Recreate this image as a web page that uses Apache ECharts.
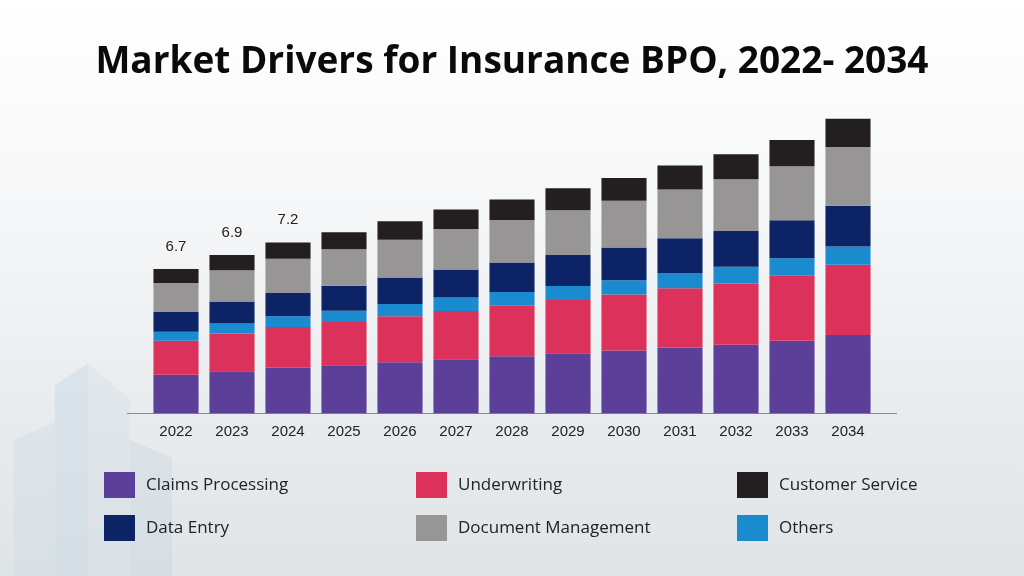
<!DOCTYPE html>
<html>
<head>
<meta charset="utf-8">
<style>
html,body{margin:0;padding:0;width:1024px;height:576px;overflow:hidden;}
#chart{width:1024px;height:576px;background:linear-gradient(180deg,#ffffff 0%,#f6f7f8 35%,#e9ecee 70%,#dfe4e7 100%);}
</style>
<script src="https://cdn.jsdelivr.net/npm/echarts@6/dist/echarts.min.js"></script>
</head>
<body>
<div id="chart"></div>
<script>
const years = ['2022','2023','2024','2025','2026','2027','2028','2029','2030','2031','2032','2033','2034'];
const totalLabels = ['6.7','6.9','7.2','','','','','','','','','',''];
const claimsProcessing   = [1.79,1.95,2.12,2.23,2.37,2.51,2.65,2.79,2.91,3.06,3.18,3.37,3.64];
const underwriting       = [1.58,1.76,1.89,2.01,2.14,2.24,2.34,2.47,2.61,2.74,2.85,3.02,3.25];
const others             = [0.42,0.46,0.50,0.52,0.56,0.62,0.64,0.65,0.66,0.71,0.77,0.81,0.85];
const dataEntry          = [0.91,1.02,1.07,1.16,1.23,1.30,1.37,1.44,1.52,1.61,1.66,1.76,1.89];
const documentManagement = [1.35,1.45,1.59,1.69,1.76,1.88,1.97,2.08,2.17,2.27,2.40,2.51,2.73];
const customerService    = [0.65,0.71,0.76,0.79,0.85,0.91,0.96,1.02,1.05,1.11,1.16,1.22,1.31];

const seriesDefs = [
  {name:'Claims Processing', data:claimsProcessing, color:'#5b3f98'},
  {name:'Underwriting', data:underwriting, color:'#dc315b'},
  {name:'Others', data:others, color:'#1b8bd0'},
  {name:'Data Entry', data:dataEntry, color:'#0c2466'},
  {name:'Document Management', data:documentManagement, color:'#979596'},
  {name:'Customer Service', data:customerService, color:'#231f20'}
];

const chart = echarts.init(document.getElementById('chart'), null, {renderer:'canvas'});
const legendText = {fontFamily:'"Open Sans", sans-serif', fontSize:17, color:'#222', padding:[0,0,0,6]};
function legendCol(left, items){
  return {
    orient:'vertical', left:left, top:472, padding:0, itemWidth:31, itemHeight:26, itemGap:17,
    icon:'rect', selectedMode:false, textStyle:legendText, data:items
  };
}
const series = seriesDefs.map((s, i) => ({
  name:s.name, type:'bar', stack:'total', data:s.data, barCategoryGap:'19.5%',
  itemStyle:{color:s.color}, emphasis:{disabled:true}, animation:false,
  label: i === seriesDefs.length - 1 ? {
    show:true, position:'top', distance:15,
    fontFamily:'"Liberation Sans", Arial, sans-serif', fontSize:15, color:'#222',
    formatter: p => totalLabels[p.dataIndex]
  } : {show:false}
}));

chart.setOption({
  animation:false,
  title:{
    text:'Market Drivers for Insurance BPO, 2022- 2034', left:'center', top:39,
    textStyle:{fontFamily:'"Open Sans", sans-serif', fontWeight:700, fontSize:37, color:'#0a0a0a'}
  },
  legend:[
    legendCol(104, ['Claims Processing','Data Entry']),
    legendCol(416, ['Underwriting','Document Management']),
    legendCol(737, ['Customer Service','Others'])
  ],
  grid:{left:148, right:148, top:111.7, bottom:162.7},
  xAxis:{
    type:'category', data:years,
    axisLine:{show:false}, axisTick:{show:false},
    axisLabel:{fontFamily:'"Liberation Sans", Arial, sans-serif', fontSize:15, color:'#222', margin:11}
  },
  yAxis:{type:'value', min:0, max:14, show:false, splitLine:{show:false}},
  graphic:[
    {type:'polygon', z:-10, silent:true, shape:{points:[[14,576],[14,440],[55,422],[55,576]]}, style:{fill:'rgba(200,214,224,0.3)'}},
    {type:'polygon', z:-10, silent:true, shape:{points:[[55,576],[55,385],[88,363],[88,576]]}, style:{fill:'rgba(195,212,224,0.4)'}},
    {type:'polygon', z:-10, silent:true, shape:{points:[[88,576],[88,363],[130,400],[130,576]]}, style:{fill:'rgba(205,218,228,0.3)'}},
    {type:'polygon', z:-10, silent:true, shape:{points:[[130,576],[130,440],[172,458],[172,576]]}, style:{fill:'rgba(195,212,224,0.35)'}},
    {type:'line', silent:true, shape:{x1:127, y1:413.5, x2:897, y2:413.5}, style:{stroke:'#8c8c8c', lineWidth:1.2}}
  ],
  series: series
});
</script>
</body>
</html>
